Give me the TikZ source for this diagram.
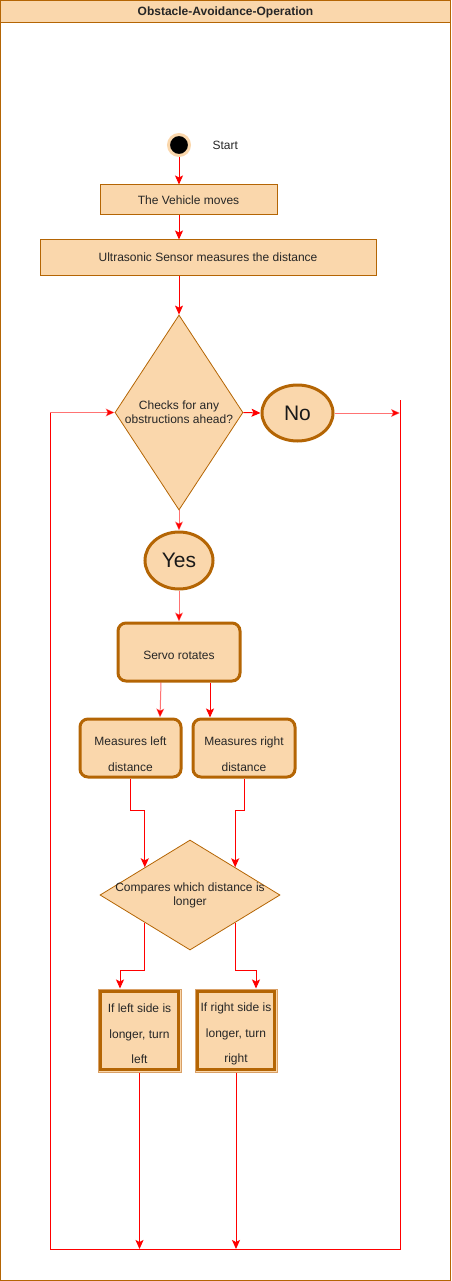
\documentclass[tikz,border=0pt]{standalone}
\usepackage{fontspec}
\setmainfont{Liberation Sans}
\usetikzlibrary{shapes.geometric,arrows.meta,calc}
\definecolor{peach}{HTML}{FAD7AC}
\definecolor{brown}{HTML}{B46504}
\definecolor{lightbrown}{HTML}{D9A066}
\definecolor{myred}{HTML}{FF0000}
\begin{document}
\begin{tikzpicture}[x=1pt,y=-1pt,
  txt/.style={font=\fontsize{12}{14}\selectfont, text=black!85},
  plainbox/.style={draw=brown, fill=peach, line width=1pt, inner sep=0pt, txt},
  roundbox/.style={draw=brown, fill=peach, line width=3pt, rounded corners=8pt, inner sep=0pt},
  multitxt/.style={align=center, font=\fontsize{12}{25.5}\selectfont, text=black!85},
  dia/.style={diamond, draw=brown, fill=peach, line width=0.8pt, inner sep=0pt},
  oval/.style={ellipse, draw=brown, fill=peach, line width=3pt, inner sep=0pt, font=\fontsize{21}{24}\selectfont, text=black!90},
  ln/.style={draw=myred, line width=1pt},
  arr/.style={ln, -{Stealth[length=9pt,width=8pt,inset=2pt]}},
  parr/.style={arr, draw opacity=0.55}
]
\useasboundingbox (0,0) rectangle (451,1281);
% frame
\fill[peach] (0.5,0.5) rectangle (450.5,23);
\draw[brown, line width=1pt] (0.5,0.5) rectangle (450.5,1280.5);
\draw[brown, line width=1pt] (0.5,23) -- (450.5,23);
\node[font=\bfseries\fontsize{12}{14}\selectfont, text=black!85] (title) at (225.5,12) {Obstacle-Avoidance-Operation};

% start
\node[circle, fill=black, draw=peach, line width=3pt, minimum size=21pt, inner sep=0pt] (start) at (179,145) {};
\node[txt, anchor=west] (startlbl) at (209,145) {Start};

% boxes
\node[plainbox, minimum width=177pt, minimum height=30pt] (v1) at (188.5,200) {The Vehicle moves};
\node[plainbox, minimum width=336pt, minimum height=35pt] (us) at (208,257.5) {Ultrasonic Sensor measures the distance};

% diamond 1
\node[dia, minimum width=128pt, minimum height=195pt] (d1) at (179,412.5) {};
\node[txt, align=center] (d1t) at (179,412.5) {Checks for any\\obstructions ahead?};

\node[oval, minimum width=71pt, minimum height=56pt] (no) at (297.5,413) {No};
\node[oval, minimum width=68pt, minimum height=57pt] (yes) at (179,560.5) {Yes};

\node[roundbox, minimum width=122pt, minimum height=58pt] (servo) at (179,652) {};
\node[txt] (servot) at (179,655) {Servo rotates};
\node[roundbox, minimum width=101pt, minimum height=58pt] (ml) at (130.5,748) {};
\node[multitxt] (mlt) at (130.5,754) {Measures left\\distance};
\node[roundbox, minimum width=102pt, minimum height=58pt] (mr) at (244,748) {};
\node[multitxt] (mrt) at (244,754) {Measures right\\distance};

% diamond 2
\node[dia, minimum width=180pt, minimum height=110pt] (d2) at (190,895) {};
\node[txt, align=center] (d2t) at (190,895) {Compares which distance is\\longer};

% if boxes
\node[draw=lightbrown, fill=peach, line width=1pt, minimum width=83pt, minimum height=83pt, inner sep=0pt] (il) at (139.5,1030.5) {};
\draw[brown, line width=3pt] ([shift={(3,3)}]il.north west) rectangle ([shift={(-3,-3)}]il.south east);
\node[multitxt] (ilt) at (139.5,1034) {If left side is\\longer, turn\\left};
\node[draw=lightbrown, fill=peach, line width=1pt, minimum width=82pt, minimum height=83pt, inner sep=0pt] (ir) at (236,1030.5) {};
\draw[brown, line width=3pt] ([shift={(3,3)}]ir.north west) rectangle ([shift={(-3,-3)}]ir.south east);
\node[multitxt] (irt) at (236,1034) {If right side is\\longer, turn\\right};

% loop coordinates
\coordinate (rt) at (400,400);
\coordinate (rb) at (400,1249);
\coordinate (lb) at (50,1249);

% connectors
\draw[arr] (start) -- (start |- v1.north);
\draw[arr] (start |- v1.south) -- (start |- us.north);
\draw[arr] (start |- us.south) -- (d1.north);
\draw[arr] (d1.east) -- (no.west);
\draw[parr] (no.east) -- (no -| rt);
\draw[ln] (rt) -- (rb) -- (lb) -- (lb |- d1.west);
\draw[parr] (lb |- d1.west) -- (d1.west);
\draw[parr] (d1.south) -- (yes.north);
\draw[parr] (yes.south) -- (servo.north);
\draw[parr] ([xshift=-18]servo.south) -- ([xshift=29.5]ml.north);
\draw[arr] ([xshift=31]servo.south) -- ([xshift=-34]mr.north);
\draw[arr] (ml.south) -- ++(0,32) -| (d2.north west);
\draw[arr] (mr.south) -- ++(0,32) -| (d2.north east);
\draw[arr] (d2.south west) -- ++(0,47.5) -| ([xshift=-19.5]il.north);
\draw[arr] (d2.south east) -- ++(0,47.5) -| ([xshift=20]ir.north);
\draw[arr] (il.south) -- (il.south |- lb);
\draw[arr] (ir.south) -- (ir.south |- lb);
\end{tikzpicture}
\end{document}
